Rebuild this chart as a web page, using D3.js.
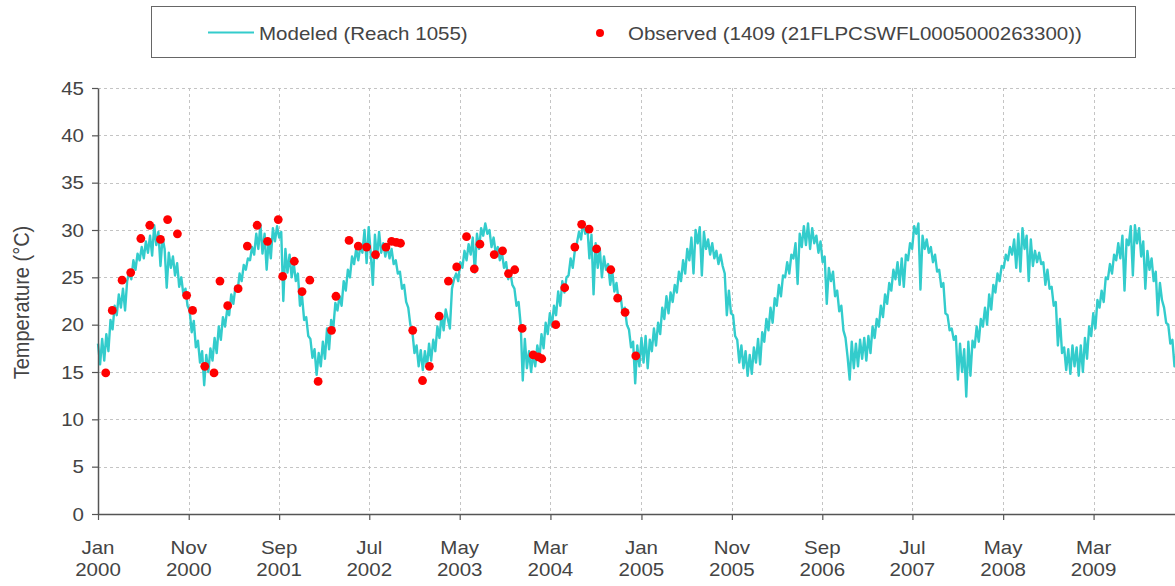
<!DOCTYPE html>
<html><head><meta charset="utf-8">
<script src="https://cdn.jsdelivr.net/npm/d3@7"></script>
<style>
body{margin:0;background:#fff}
svg{display:block}
text{font-family:"Liberation Sans",Arial,sans-serif;fill:#444}
</style>
</head><body><svg id="c" width="1175" height="586"></svg>
<script>
// ---------- DATA ----------
const modeledStart = "2000-01-01";
const modeledStepDays = 7;
const modeledTemp = [
18.0,15.8,18.5,16.2,19.0,17.2,20.5,19.5,22.0,21.0,23.2,21.8,23.8,21.5,24.6,25.6,24.8,26.8,25.8,27.5,26.8,28.2,27.0,28.8,27.6,29.4,27.3,30.5,28.4,29.8,26.2,29.2,28.0,23.9,27.6,26.0,27.2,25.2,26.5,24.0,25.0,23.2,23.8,22.0,21.5,19.2,20.4,17.6,18.3,16.0,17.2,13.6,16.8,
15.0,17.5,16.2,18.6,17.0,19.8,18.4,20.8,19.8,21.5,21.0,23.2,22.2,24.0,23.5,25.4,24.6,26.3,25.8,27.0,26.8,28.2,27.4,29.6,28.0,30.6,27.5,29.6,25.8,29.0,27.0,30.2,28.8,30.4,29.2,29.8,22.5,28.0,25.5,27.4,25.0,26.5,24.6,25.4,22.0,23.0,20.5,20.8,18.8,18.5,16.5,17.4,14.7,
17.0,15.6,18.2,16.4,19.6,17.4,20.5,19.6,22.3,21.5,23.0,22.0,24.6,23.6,25.8,25.0,27.2,26.4,28.0,26.8,28.3,27.6,30.0,26.5,30.3,27.5,24.2,29.5,27.0,29.8,27.6,28.6,27.2,28.4,27.0,28.0,26.4,26.8,25.4,25.6,23.8,24.2,22.4,21.8,20.0,19.2,17.0,17.8,15.6,17.3,15.2,17.2,15.5,18.0,16.2,
18.4,17.2,19.8,18.6,21.0,19.4,21.6,20.6,19.6,23.8,24.8,25.4,24.6,26.6,26.0,27.8,26.8,28.5,27.4,29.2,25.5,29.6,28.0,30.2,29.4,30.7,29.6,30.0,28.2,29.2,27.6,28.2,26.8,27.6,26.0,26.6,24.8,25.6,24.2,23.8,22.0,22.4,20.0,14.1,18.5,15.4,17.2,15.0,17.0,15.6,17.8,16.4,19.0,17.5,20.2,19.0,21.2,19.8,22.0,21.0,23.5,22.0,24.6,23.4,25.0,25.2,27.0,26.0,27.8,28.6,29.8,29.0,30.9,29.6,30.4,27.0,29.5,23.2,28.6,26.0,28.0,25.0,27.2,25.8,26.4,24.2,25.6,23.5,24.4,22.6,23.0,21.2,21.8,20.0,19.5,17.6,18.2,13.8,17.8,15.6,18.6,16.0,18.8,15.4,18.4,
17.2,19.6,17.8,20.2,19.0,21.8,20.6,23.0,21.2,23.4,22.4,24.2,23.4,25.6,24.6,26.8,25.4,28.0,26.8,29.2,25.4,30.0,28.6,30.3,25.2,29.8,28.0,29.0,27.4,28.6,27.0,27.8,26.4,27.4,26.2,25.4,21.0,23.6,21.2,21.0,18.8,18.4,16.0,17.8,15.4,17.2,14.6,16.8,14.8,17.6,16.0,18.5,15.8,19.2,18.2,20.6,19.4,21.8,20.2,22.8,22.0,24.2,23.0,25.2,25.0,26.6,25.4,27.4,27.0,28.6,24.3,29.6,28.2,30.4,28.4,30.7,28.0,30.2,28.6,29.4,27.6,28.8,26.6,27.2,22.2,26.0,
24.6,25.6,23.0,23.6,21.4,22.0,19.4,18.6,16.6,14.2,18.2,15.4,18.0,15.6,18.4,16.4,18.6,16.2,18.8,17.0,19.8,18.6,20.6,19.8,22.0,20.8,23.2,22.2,24.4,23.6,25.8,24.8,26.6,24.2,27.0,24.0,27.4,26.8,28.6,28.0,30.4,29.6,30.7,23.7,29.4,28.0,29.0,27.6,28.2,26.6,27.4,25.6,25.8,24.0,24.4,21.2,21.0,19.4,19.6,18.4,18.8,14.2,18.0,15.0,17.4,12.4,18.2,14.6,18.3,17.6,19.8,18.2,20.6,19.8,21.8,20.0,23.2,21.6,24.2,23.4,25.4,24.6,26.2,26.0,27.4,
26.8,28.2,27.4,29.0,26.0,29.6,25.6,30.2,28.0,29.4,24.6,29.0,26.2,27.8,26.6,27.6,26.4,26.6,24.2,25.8,23.8,24.0,22.0,22.4,17.8,20.6,17.0,17.6,15.2,17.4,14.8,17.8,15.6,17.6,14.6,17.8,15.0,18.6,16.4,19.8,18.8,21.2,19.6,22.6,21.8,23.6,22.4,25.0,24.8,26.4,25.4,27.4,26.8,28.6,27.0,29.4,23.6,29.0,28.4,30.4,25.2,30.5,28.6,30.2,27.2,28.8,23.8,27.8,25.8,27.0,24.6,25.6,21.0,24.4,22.6,21.8,20.2,20.0,18.0,18.4,15.6,17.2,15.4,16.4,15.8
];

const obsDates = [
"2000-01-27","2000-02-18","2000-03-22","2000-04-20","2000-05-24","2000-06-23","2000-07-29","2000-08-22","2000-09-24","2000-10-25","2000-11-14","2000-12-25",
"2001-01-25","2001-02-14","2001-03-12","2001-04-16","2001-05-17","2001-06-19","2001-07-24","2001-08-29","2001-09-13","2001-10-22","2001-11-17","2001-12-13",
"2002-01-10","2002-02-24","2002-03-11","2002-04-24","2002-05-25","2002-06-22","2002-07-22","2002-08-26","2002-09-14","2002-09-30","2002-10-14","2002-11-24","2002-12-27",
"2003-01-19","2003-02-21","2003-03-24","2003-04-21","2003-05-24","2003-06-19","2003-07-08","2003-08-25","2003-09-22","2003-10-12","2003-11-02","2003-11-27",
"2004-01-03","2004-01-20","2004-02-01","2004-03-19","2004-04-18","2004-05-22","2004-06-14","2004-07-09","2004-08-03","2004-09-20","2004-10-13","2004-11-07","2004-12-13"
];
const obsTemps = [
14.9,21.5,24.7,25.5,29.1,30.5,29.0,31.1,29.6,23.1,21.5,15.6,
14.9,24.6,22.0,23.8,28.3,30.5,28.8,31.1,25.1,26.7,23.5,24.7,
14.0,19.4,23.0,28.9,28.3,28.2,27.4,28.2,28.8,28.7,28.6,19.4,14.1,
15.6,20.9,24.6,26.1,29.3,25.9,28.5,27.4,27.8,25.4,25.8,19.6,
16.8,16.6,16.4,20.0,23.9,28.2,30.6,30.1,28.0,25.8,22.8,21.3,16.7
];

const yTicks = [0,5,10,15,20,25,30,35,40,45];
const xTickDates = ["2000-01-01","2000-11-01","2001-09-01","2002-07-01","2003-05-01","2004-03-01","2005-01-01","2005-11-01","2006-09-01","2007-07-01","2008-05-01","2009-03-01"];
const xTickMonth = ["Jan","Nov","Sep","Jul","May","Mar","Jan","Nov","Sep","Jul","May","Mar"];
const xTickYear  = ["2000","2000","2001","2002","2003","2004","2005","2005","2006","2007","2008","2009"];
const seriesNames = ["Modeled (Reach 1055)","Observed (1409 (21FLPCSWFL0005000263300))"];
const yTitle = "Temperature (°C)";

// ---------- CHART ----------
const W = 1175, H = 586;
const SX = 1.14; // horizontal text stretch of the original
const FS = 18;
const svg = d3.select("#c");
const parse = d3.utcParse("%Y-%m-%d");
const start = parse(modeledStart);
const x = d3.scaleUtc().domain([parse("2000-01-01"), parse("2010-01-01")]).range([98, 1184.6]);
const y = d3.scaleLinear().domain([0, 45]).range([514, 88]);

const modeled = modeledTemp.map((v, i) => ({date: d3.utcDay.offset(start, i * modeledStepDays), v}));
const observed = obsDates.map((d, i) => ({date: parse(d), v: obsTemps[i]}));
const ticks = xTickDates.map(parse);

function txt(g, tx, ty, s, anchor, size) {
  return g.append("text")
    .attr("transform", `translate(${tx},${ty}) scale(${SX},1)`)
    .attr("text-anchor", anchor)
    .style("font-size", (size || FS) + "px")
    .text(s);
}

// gridlines
const grid = svg.append("g").attr("stroke", "#c4c4c4").attr("stroke-width", 1).attr("stroke-dasharray", "3,3");
grid.selectAll("line.h").data(yTicks.filter(t => t > 0)).join("line")
  .attr("x1", 98).attr("x2", W).attr("y1", d => Math.round(y(d)) + 0.5).attr("y2", d => Math.round(y(d)) + 0.5);
grid.selectAll("line.v").data(ticks.slice(1)).join("line")
  .attr("y1", 88).attr("y2", 514).attr("x1", d => Math.round(x(d)) + 0.5).attr("x2", d => Math.round(x(d)) + 0.5);

// modeled line
const line = d3.line().x(d => x(d.date)).y(d => y(d.v));
svg.append("path").datum(modeled)
  .attr("fill", "none").attr("stroke", "#33cccc").attr("stroke-width", 2.4)
  .attr("stroke-linejoin", "round").attr("d", line);

// observed dots
svg.append("g").selectAll("circle").data(observed).join("circle")
  .attr("cx", d => x(d.date)).attr("cy", d => y(d.v)).attr("r", 4.4).attr("fill", "#ff0000");

// axes
const yAxis = svg.append("g").attr("transform", "translate(98,0)")
  .call(d3.axisLeft(y).tickValues(yTicks).tickSize(6).tickSizeOuter(0).tickFormat(""));
const xAxis = svg.append("g").attr("transform", "translate(0,514)")
  .call(d3.axisBottom(x).tickValues(ticks).tickSize(6).tickSizeOuter(0).tickFormat(""));
[yAxis, xAxis].forEach(a => {
  a.select(".domain").attr("stroke", "#555").attr("stroke-width", 1.5);
  a.selectAll(".tick line").attr("stroke", "#555").attr("stroke-width", 1.2);
});

// y labels
const yl = svg.append("g");
yTicks.forEach(t => txt(yl, 84, y(t) + 6.5, String(t), "end"));
// x labels
const xl = svg.append("g");
ticks.forEach((d, i) => {
  txt(xl, x(d), 554, xTickMonth[i], "middle");
  txt(xl, x(d), 576, xTickYear[i], "middle");
});
// y title
svg.append("text")
  .attr("transform", `translate(28.5,302.5) scale(${SX},1) rotate(-90)`)
  .attr("text-anchor", "middle").style("font-size", "20px").text(yTitle);

// legend
const lg = svg.append("g");
lg.append("rect").attr("x", 151.5).attr("y", 6.5).attr("width", 984).attr("height", 51)
  .attr("fill", "#fff").attr("stroke", "#666").attr("stroke-width", 1);
lg.append("line").attr("x1", 208).attr("x2", 254).attr("y1", 32.5).attr("y2", 32.5)
  .attr("stroke", "#33cccc").attr("stroke-width", 2);
txt(lg, 259, 39.5, seriesNames[0], "start");
lg.append("circle").attr("cx", 600).attr("cy", 33).attr("r", 4).attr("fill", "#ff0000");
txt(lg, 628, 39.5, seriesNames[1], "start");
</script>
</body></html>
